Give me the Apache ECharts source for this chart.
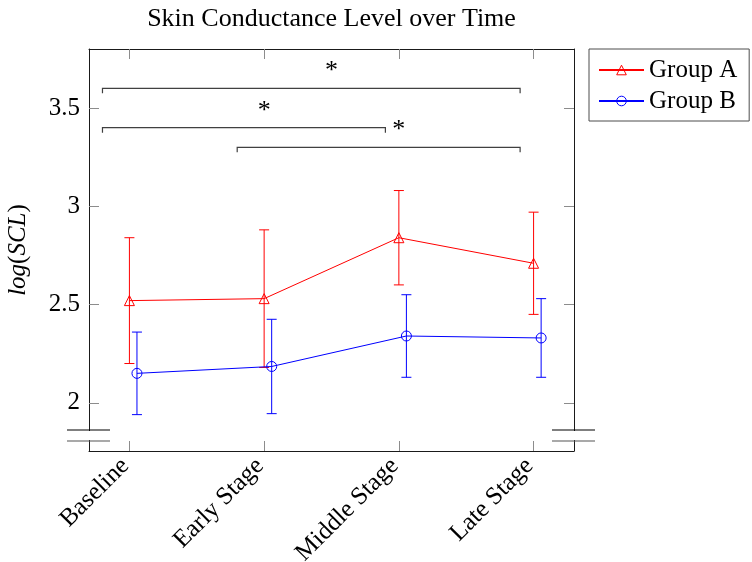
<!DOCTYPE html>
<html>
<head>
<meta charset="utf-8">
<title>Skin Conductance Level over Time</title>
<script src="https://cdn.jsdelivr.net/npm/echarts@6/dist/echarts.min.js"></script>
<style>
  html, body { margin: 0; padding: 0; background: #fff; }
  #chart { width: 752px; height: 562px; }
</style>
</head>
<body>
<div id="chart"></div>
<script>
// Measurement stages
const categories = ['Baseline', 'Early Stage', 'Middle Stage', 'Late Stage'];

// Group A: mean log(SCL) with error-bar limits
const groupAMean = [2.52, 2.53, 2.84, 2.71];
const groupALow  = [2.20, 2.18, 2.60, 2.45];
const groupAHigh = [2.84, 2.88, 3.08, 2.97];

// Group B: mean log(SCL) with error-bar limits
const groupBMean = [2.15, 2.185, 2.34, 2.33];
const groupBLow  = [1.94, 1.945, 2.13, 2.13];
const groupBHigh = [2.36, 2.425, 2.55, 2.53];

// Axis tick values
const yTicks = [2, 2.5, 3, 3.5];
const xTicks = [0, 1, 2, 3];

// Significance brackets (stage coordinates) and their asterisks
const bracketFrom  = [-0.2, -0.2, 0.8];
const bracketTo    = [2.9, 1.9, 2.9];
const bracketLevel = [3.6, 3.4, 3.3];
const starX = [1.5, 1, 2];
const starY = [3.7, 3.5, 3.4];

const FONT = 'Liberation Serif';
const FS = 25;
const RED = '#ff0000';
const BLUE = '#0000ff';
const TICK = '#8c8c8c';
const GRID = { left: 89, top: 49, width: 485, height: 402 };
const B_SHIFT = 0.056;   // horizontal dodge of Group B markers
const CAP = 5;           // half-width of error-bar caps

const pts = (means, shift) => means.map((v, i) => [i + shift, v]);
const bars = (low, high, shift) => low.map((l, i) => [i + shift, l, high[i]]);

function errorBarItem(color) {
  return function (params, api) {
    const x = api.value(0);
    const lo = api.coord([x, api.value(1)]);
    const hi = api.coord([x, api.value(2)]);
    const st = { stroke: color, lineWidth: 1 };
    return {
      type: 'group',
      children: [
        { type: 'line', shape: { x1: lo[0], y1: lo[1], x2: hi[0], y2: hi[1] }, style: st },
        { type: 'line', shape: { x1: lo[0] - CAP, y1: lo[1], x2: lo[0] + CAP, y2: lo[1] }, style: st },
        { type: 'line', shape: { x1: hi[0] - CAP, y1: hi[1], x2: hi[0] + CAP, y2: hi[1] }, style: st }
      ]
    };
  };
}

const bracketData = bracketFrom.map((f, i) => [f, bracketTo[i], bracketLevel[i]]);
const starData = starX.map((x, i) => [x, starY[i]]);

const chart = echarts.init(document.getElementById('chart'), null, { renderer: 'canvas' });

const axisCommon = {
  type: 'value',
  axisLine: { show: true, onZero: false, lineStyle: { color: '#1a1a1a', width: 1 } },
  splitLine: { show: false },
  axisTick: { show: true, inside: true, length: 10, lineStyle: { color: TICK, width: 1 } }
};

chart.setOption({
  animation: false,
  backgroundColor: '#fff',
  grid: Object.assign({ containLabel: false, outerBoundsMode: 'none' }, GRID),
  legend: {
    data: ['Group A', 'Group B'],
    orient: 'vertical',
    left: 589,
    top: 49,
    padding: [8, 12, 7, 9],
    itemWidth: 45,
    itemHeight: 12,
    itemGap: 5,
    borderColor: '#4d4d4d',
    borderWidth: 1,
    itemStyle: { borderWidth: 1 },
    textStyle: { fontFamily: FONT, fontSize: FS, color: '#000', lineHeight: 26 }
  },
  xAxis: [
    Object.assign({}, axisCommon, {
      min: -0.3, max: 3.3,
      position: 'bottom',
      axisTick: Object.assign({}, axisCommon.axisTick, { customValues: xTicks }),
      axisLabel: {
        customValues: xTicks,
        rotate: 45,
        margin: 7,
        padding: [0, 6, 11, 0],
        fontFamily: FONT, fontSize: FS, color: '#000',
        formatter: v => categories[Math.round(v)]
      }
    }),
    Object.assign({}, axisCommon, {
      min: -0.3, max: 3.3,
      position: 'top',
      axisTick: Object.assign({}, axisCommon.axisTick, { customValues: xTicks }),
      axisLabel: { show: false }
    })
  ],
  yAxis: [
    Object.assign({}, axisCommon, {
      min: 1.755, max: 3.8,
      position: 'left',
      axisTick: Object.assign({}, axisCommon.axisTick, { customValues: yTicks }),
      axisLabel: {
        customValues: yTicks,
        margin: 9,
        fontFamily: FONT, fontSize: FS, color: '#000',
        formatter: v => String(v)
      },
      name: '{i|log}{n|(}{i|SCL}{n|)}',
      nameLocation: 'middle',
      nameGap: 58,
      nameRotate: 90,
      nameTextStyle: {
        fontFamily: FONT, fontSize: FS, color: '#000',
        rich: {
          i: { fontFamily: FONT, fontSize: FS, fontStyle: 'italic', color: '#000' },
          n: { fontFamily: FONT, fontSize: FS, color: '#000' }
        }
      }
    }),
    Object.assign({}, axisCommon, {
      min: 1.755, max: 3.8,
      position: 'right',
      axisTick: Object.assign({}, axisCommon.axisTick, { customValues: yTicks }),
      axisLabel: { show: false }
    })
  ],
  series: [
    {
      name: 'Group A bars', type: 'custom', silent: true, z: 2,
      renderItem: errorBarItem(RED),
      data: bars(groupALow, groupAHigh, 0)
    },
    {
      name: 'Group B bars', type: 'custom', silent: true, z: 2,
      renderItem: errorBarItem(BLUE),
      data: bars(groupBLow, groupBHigh, B_SHIFT)
    },
    {
      name: 'Group A', type: 'line', z: 3,
      data: pts(groupAMean, 0),
      symbol: 'triangle', symbolSize: 10,
      lineStyle: { color: RED, width: 1 },
      itemStyle: { color: 'none', borderColor: RED, borderWidth: 1 },
      emphasis: { disabled: true }
    },
    {
      name: 'Group B', type: 'line', z: 3,
      data: pts(groupBMean, B_SHIFT),
      symbol: 'circle', symbolSize: 10,
      lineStyle: { color: BLUE, width: 1 },
      itemStyle: { color: 'none', borderColor: BLUE, borderWidth: 1 },
      emphasis: { disabled: true }
    },
    {
      name: 'brackets', type: 'custom', silent: true, z: 4,
      renderItem: function (params, api) {
        const a = api.coord([api.value(0), api.value(2)]);
        const b = api.coord([api.value(1), api.value(2)]);
        return {
          type: 'polyline',
          shape: { points: [[a[0], a[1] + 5], a, b, [b[0], b[1] + 5]] },
          style: { stroke: '#404040', lineWidth: 1.2, fill: null }
        };
      },
      data: bracketData
    },
    {
      name: 'stars', type: 'custom', silent: true, z: 4,
      renderItem: function (params, api) {
        const p = api.coord([api.value(0), api.value(1)]);
        return {
          type: 'text',
          x: p[0], y: p[1] + 3,
          style: {
            text: '*', fontFamily: FONT, fontSize: 26, fill: '#000',
            align: 'center', verticalAlign: 'middle'
          }
        };
      },
      data: starData
    }
  ]
});

// Title and y-axis discontinuity marks, placed from the grid geometry
const gx0 = GRID.left, gx1 = GRID.left + GRID.width, gy1 = GRID.top + GRID.height;
const breakUpper = gy1 - 21, breakLower = gy1 - 10;
function breakMark(cx) {
  return [
    { type: 'rect', shape: { x: cx - 3, y: breakUpper + 1, width: 6, height: breakLower - breakUpper - 2 }, style: { fill: '#fff' }, z: 10 },
    { type: 'line', shape: { x1: cx - 22, y1: breakUpper, x2: cx + 21, y2: breakUpper }, style: { stroke: '#000', lineWidth: 1.2 }, z: 10 },
    { type: 'line', shape: { x1: cx - 22, y1: breakLower, x2: cx + 21, y2: breakLower }, style: { stroke: '#555', lineWidth: 1.2 }, z: 10 }
  ];
}
chart.setOption({
  graphic: [
    {
      type: 'text', x: (gx0 + gx1) / 2, y: 6, z: 10,
      style: {
        text: 'Skin Conductance Level over Time', fontFamily: FONT, fontSize: 26,
        fill: '#000', align: 'center', verticalAlign: 'top'
      }
    }
  ].concat(breakMark(gx0), breakMark(gx1))
});
</script>
</body>
</html>
